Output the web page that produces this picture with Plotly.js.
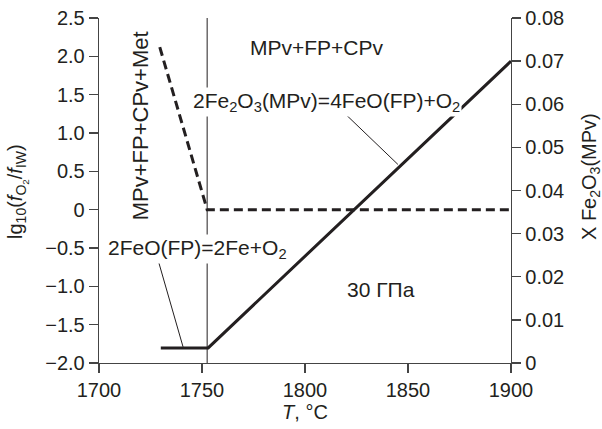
<!DOCTYPE html>
<html>
<head>
<meta charset="utf-8">
<script src="https://cdn.plot.ly/plotly-3.0.1.min.js"></script>
<style>html,body{margin:0;padding:0;background:#fff;}#chart{width:602px;height:429px;}</style>
</head>
<body>
<div id="chart"></div>
<script>
// Solid line: Fe2O3 content in MPv (right axis)
var solidT = [1730, 1753, 1900];
var solidX = [0.0035, 0.0035, 0.070];
// Dashed line: lg10(fO2/fIW) (left axis)
var dashT = [1729.5, 1752.5, 1900];
var dashF = [2.12, 0.0, 0.0];
// Phase boundary temperature
var boundaryT = 1752.5;
// Tick labels
var xTickVals = [1700, 1750, 1800, 1850, 1900];
var xTickText = ["1700", "1750", "1800", "1850", "1900"];
var yTickVals = [2.5, 2.0, 1.5, 1.0, 0.5, 0, -0.5, -1.0, -1.5, -2.0];
var yTickText = ["2.5", "2.0", "1.5", "1.0", "0.5", "0", "\u22120.5", "\u22121.0", "\u22121.5", "\u22122.0"];
var y2TickVals = [0, 0.01, 0.02, 0.03, 0.04, 0.05, 0.06, 0.07, 0.08];
var y2TickText = ["0", "0.01", "0.02", "0.03", "0.04", "0.05", "0.06", "0.07", "0.08"];

var FONT = "Liberation Sans, Arial, sans-serif";
var INK = "#231f20";
var TICK = 20, ANN = 21, TTL = 20;

var traces = [
  {x: dashT, y: dashF, yaxis: "y", mode: "lines", line: {color: INK, width: 3, dash: "9px,5px"}, hoverinfo: "skip"},
  {x: solidT, y: solidX, yaxis: "y2", mode: "lines", line: {color: INK, width: 3}, hoverinfo: "skip"}
];

var axCommon = {
  showgrid: false, zeroline: false, showline: true, linecolor: "#444", linewidth: 1.3,
  ticks: "outside", ticklen: 9, tickwidth: 1.3, tickcolor: "#444",
  tickfont: {family: FONT, size: TICK, color: INK}
};

function ann(o) {
  return Object.assign({showarrow: false, xanchor: "center", yanchor: "middle", font: {family: FONT, size: ANN, color: INK}}, o);
}

var layout = {
  width: 602, height: 429,
  margin: {l: 99, r: 91, t: 18, b: 66},
  paper_bgcolor: "#fff", plot_bgcolor: "#fff",
  showlegend: false,
  font: {family: FONT, color: INK},
  xaxis: Object.assign({}, axCommon, {
    range: [1700, 1900], tickmode: "array", tickvals: xTickVals, ticktext: xTickText,
    title: {text: "<i>T</i>, °C", font: {family: FONT, size: TTL, color: INK}, standoff: 0}
  }),
  yaxis: Object.assign({}, axCommon, {
    range: [-2.0, 2.5], tickmode: "array", tickvals: yTickVals, ticktext: yTickText
  }),
  yaxis2: Object.assign({}, axCommon, {
    overlaying: "y", side: "right",
    range: [0, 0.08], tickmode: "array", tickvals: y2TickVals, ticktext: y2TickText
  }),
  shapes: [
    {type: "line", xref: "x", yref: "y", x0: boundaryT, x1: boundaryT, y0: -2.0, y1: 2.5, line: {color: INK, width: 1}, layer: "below"},
    {type: "line", xref: "x", yref: "y", x0: 1816.0, x1: 1845.1, y0: 1.34, y1: 0.59, line: {color: INK, width: 1}},
    {type: "line", xref: "x", yref: "y", x0: 1728.6, x1: 1740.8, y0: -0.65, y1: -1.79, line: {color: INK, width: 1}}
  ],
  annotations: [
    ann({xref: "paper", yref: "paper", x: -0.1966, y: 0.4957, text: "lg<sub>10</sub>(<i>f</i><sub>O<sub>2</sub></sub>/<i>f</i><sub>IW</sub>)", textangle: -90, font: {family: FONT, size: TTL, color: INK}}),
    ann({xref: "paper", yref: "paper", x: 1.1917, y: 0.542, text: "X Fe<sub>2</sub>O<sub>3</sub>(MPv)", textangle: -90, font: {family: FONT, size: TTL, color: INK}}),
    ann({xref: "x", yref: "y", x: 1805.8, y: 2.11, text: "MPv+FP+CPv"}),
    ann({xref: "x", yref: "y", x: 1810.2, y: 1.40, text: "2Fe<sub>2</sub>O<sub>3</sub>(MPv)=4FeO(FP)+O<sub>2</sub>", bgcolor: "#fff"}),
    ann({xref: "x", yref: "y", x: 1719.9, y: 1.10, text: "MPv+FP+CPv+Met", textangle: -90, font: {family: FONT, size: 22, color: INK}}),
    ann({xref: "x", yref: "y", x: 1747.8, y: -0.51, text: "2FeO(FP)=2Fe+O<sub>2</sub>", bgcolor: "#fff"}),
    ann({xref: "x", yref: "y", x: 1837, y: -1.04, text: "30 ГПа"})
  ]
};

Plotly.newPlot("chart", traces, layout, {displayModeBar: false, staticPlot: true});
</script>
</body>
</html>
